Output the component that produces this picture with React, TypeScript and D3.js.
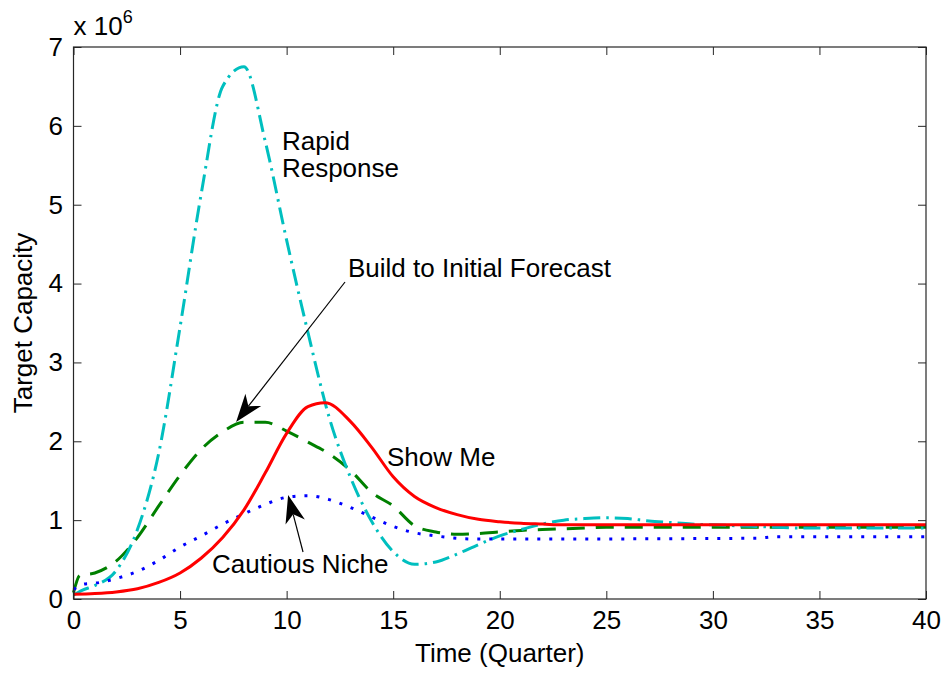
import React, { useRef, useEffect } from 'react';
import * as d3 from 'd3';

// quarters and target capacity (millions) for each policy
const rapidT = [0, 0.4, 1, 2, 3, 4, 5, 6, 7, 8, 9, 10, 11, 12, 13, 14, 15, 16, 17, 18, 19, 20, 21, 22, 23, 24, 25, 26, 27, 28, 29, 30, 31, 32, 33, 34, 40];
const rapidV = [0.05, 0.11, 0.17, 0.36, 0.88, 1.85, 3.45, 5.15, 6.5, 6.75, 5.8, 4.55, 3.38, 2.3, 1.54, 0.98, 0.6, 0.44, 0.47, 0.57, 0.69, 0.8, 0.88, 0.95, 1.0, 1.02, 1.03, 1.02, 0.99, 0.97, 0.95, 0.94, 0.93, 0.92, 0.91, 0.9, 0.9];

const buildT = [0, 0.3, 1, 2, 3, 4, 5, 6, 7, 8, 9, 10, 11, 12, 13, 14, 15, 16, 17, 18, 19, 20, 21, 22, 23, 24, 25, 26, 40];
const buildV = [0.08, 0.3, 0.33, 0.48, 0.78, 1.18, 1.57, 1.9, 2.12, 2.24, 2.24, 2.13, 1.99, 1.84, 1.63, 1.35, 1.18, 0.93, 0.85, 0.82, 0.83, 0.85, 0.87, 0.88, 0.89, 0.9, 0.91, 0.91, 0.91];

const nicheT = [0, 0.5, 1, 2, 3, 4, 5, 6, 7, 8, 9, 10, 11, 12, 13, 14, 15, 16, 17, 18, 19, 20, 32, 33, 40];
const nicheV = [0.12, 0.19, 0.2, 0.26, 0.35, 0.49, 0.66, 0.8, 0.95, 1.08, 1.2, 1.29, 1.31, 1.26, 1.16, 1.04, 0.92, 0.84, 0.8, 0.77, 0.76, 0.76, 0.77, 0.79, 0.79];

const showT = [0, 1, 2, 3, 4, 5, 6, 7, 8, 9, 10, 11, 11.8, 13, 14, 15, 16, 17, 18, 19, 20, 21, 22, 23, 40];
const showV = [0.06, 0.07, 0.09, 0.13, 0.21, 0.33, 0.52, 0.78, 1.13, 1.6, 2.1, 2.44, 2.49, 2.25, 1.92, 1.55, 1.3, 1.16, 1.07, 1.01, 0.98, 0.96, 0.95, 0.94, 0.94];

const xTicks = [0, 5, 10, 15, 20, 25, 30, 35, 40];
const yTicks = [0, 1, 2, 3, 4, 5, 6, 7];

const W = 946;
const H = 673;
const margin = { top: 47, right: 20, bottom: 74, left: 73.5 };
const font = '"Liberation Sans", Arial, sans-serif';

function App() {
  const ref = useRef<SVGSVGElement>(null);

  useEffect(() => {
    drawChart();
  }, []);

  function drawChart() {
    const svg = d3.select(ref.current);
    svg.selectAll('*').remove();

    const x = d3.scaleLinear().domain([0, 40]).range([margin.left, W - margin.right]);
    const y = d3.scaleLinear().domain([0, 7]).range([H - margin.bottom, margin.top]);
    const x0 = x(0), x1 = x(40), y0 = y(0), y1 = y(7);

    svg.append('rect').attr('width', W).attr('height', H).attr('fill', '#fff');

    const series = [
      { t: buildT, v: buildV, color: '#008000', dash: '18,11' },
      { t: rapidT, v: rapidV, color: '#00bfbf', dash: '17,6,2.5,6' },
      { t: nicheT, v: nicheV, color: '#0000ff', dash: '3,9' },
      { t: showT, v: showV, color: '#ff0000', dash: null },
    ];

    const line = d3.line<[number, number]>()
      .x(d => x(d[0]))
      .y(d => y(d[1]))
      .curve(d3.curveMonotoneX);

    series.forEach(s => {
      const pts: [number, number][] = s.t.map((t, i) => [t, s.v[i]]);
      svg.append('path')
        .datum(pts)
        .attr('fill', 'none')
        .attr('stroke', s.color)
        .attr('stroke-width', 3)
        .attr('stroke-dasharray', s.dash)
        .attr('d', line);
    });

    // axes (ticks inward, MATLAB style box)
    const axColor = '#262626';
    const bottom = svg.append('g')
      .attr('transform', `translate(0,${y0})`)
      .call(d3.axisBottom(x).tickValues(xTicks).tickSizeInner(-8).tickSizeOuter(0).tickPadding(11.5).tickFormat(d3.format('d')));
    const left = svg.append('g')
      .attr('transform', `translate(${x0},0)`)
      .call(d3.axisLeft(y).tickValues(yTicks).tickSizeInner(-8).tickSizeOuter(0).tickPadding(10.5).tickFormat(d3.format('d')));
    const top = svg.append('g')
      .attr('transform', `translate(0,${y1})`)
      .call(d3.axisTop(x).tickValues(xTicks).tickSizeInner(-8).tickSizeOuter(0).tickFormat(() => ''));
    const right = svg.append('g')
      .attr('transform', `translate(${x1},0)`)
      .call(d3.axisRight(y).tickValues(yTicks).tickSizeInner(-8).tickSizeOuter(0).tickFormat(() => ''));

    [bottom, left, top, right].forEach(g => {
      g.select('.domain').remove();
      g.selectAll('line').attr('stroke', axColor).attr('stroke-width', 1);
      g.selectAll('text')
        .attr('fill', '#000')
        .style('font-family', font)
        .style('font-size', '26px');
    });

    svg.append('rect')
      .attr('x', x0).attr('y', y1)
      .attr('width', x1 - x0).attr('height', y0 - y1)
      .attr('fill', 'none')
      .attr('stroke', axColor)
      .attr('stroke-width', 1.2);

    // exponent label
    const expo = svg.append('text')
      .attr('x', x0).attr('y', 35)
      .style('font-family', font)
      .style('font-size', '26px');
    expo.append('tspan').text('x 10');
    expo.append('tspan').attr('dy', -12).style('font-size', '18px').text('6');

    svg.append('text')
      .attr('x', (x0 + x1) / 2).attr('y', 662)
      .attr('text-anchor', 'middle')
      .style('font-family', font).style('font-size', '26px')
      .text('Time (Quarter)');

    svg.append('text')
      .attr('transform', `translate(32,${(y0 + y1) / 2}) rotate(-90)`)
      .attr('text-anchor', 'middle')
      .style('font-family', font).style('font-size', '26px')
      .text('Target Capacity');

    // annotations
    const labels = [
      { t: 9.78, v: 5.69, lines: ['Rapid', 'Response'] },
      { t: 12.88, v: 4.08, lines: ['Build to Initial Forecast'] },
      { t: 14.71, v: 1.69, lines: ['Show Me'] },
      { t: 6.5, v: 0.33, lines: ['Cautious Niche'] },
    ];
    labels.forEach(l => {
      const txt = svg.append('text')
        .attr('x', x(l.t)).attr('y', y(l.v))
        .style('font-family', font).style('font-size', '26px')
        .attr('fill', '#000');
      l.lines.forEach((s, i) => {
        txt.append('tspan')
          .attr('x', x(l.t))
          .attr('dy', i === 0 ? 0 : 27)
          .text(s);
      });
    });

    const arrows = [
      { from: [12.74, 4.02], to: [7.63, 2.245] },
      { from: [10.77, 0.596], to: [10.07, 1.319] },
    ];
    arrows.forEach(a => {
      const sx = x(a.from[0]), sy = y(a.from[1]);
      const tx = x(a.to[0]), ty = y(a.to[1]);
      const ang = Math.atan2(ty - sy, tx - sx);
      const len = 28, half = 10, notch = 20;
      const ux = Math.cos(ang), uy = Math.sin(ang);
      const px = -uy, py = ux;
      const bx = tx - ux * len, by = ty - uy * len;
      const nx = tx - ux * notch, ny = ty - uy * notch;
      svg.append('line')
        .attr('x1', sx).attr('y1', sy).attr('x2', nx).attr('y2', ny)
        .attr('stroke', '#000').attr('stroke-width', 1.2);
      svg.append('path')
        .attr('d', `M${tx},${ty}L${bx + px * half},${by + py * half}L${nx},${ny}L${bx - px * half},${by - py * half}Z`)
        .attr('fill', '#000');
    });
  }

  return (
    <svg ref={ref} width={W} height={H} style={{ position: 'absolute', left: 0, top: 0 }} />
  );
}

export default App;
